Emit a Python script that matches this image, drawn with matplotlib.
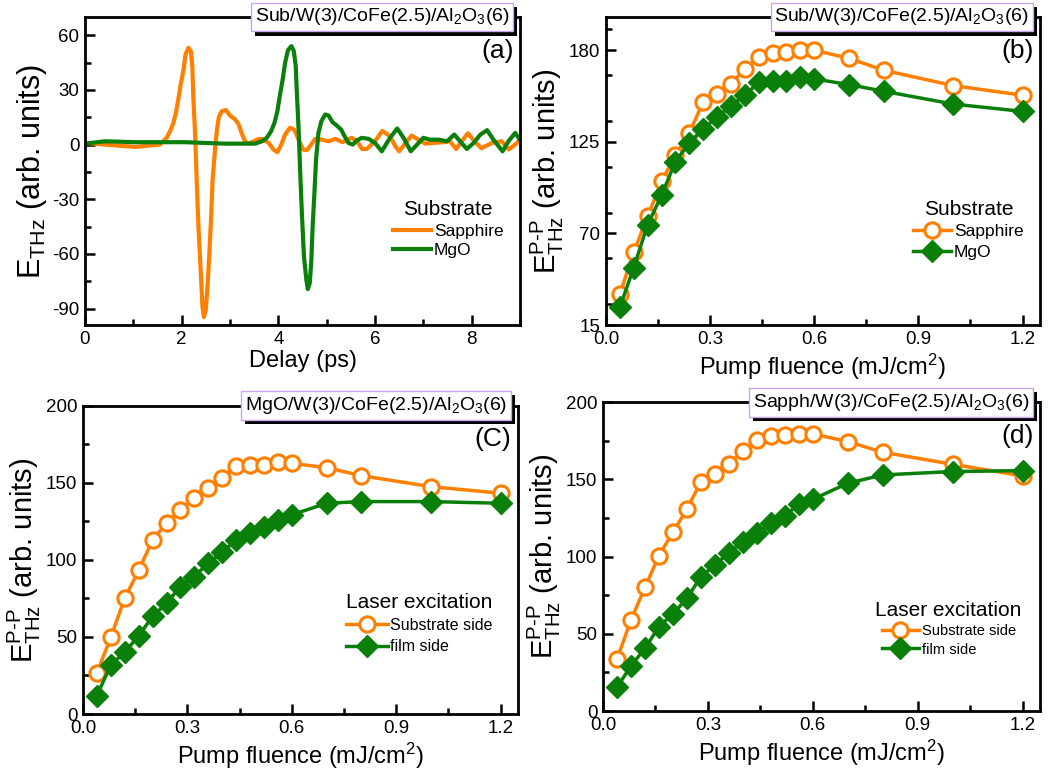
import numpy as np
import matplotlib
matplotlib.use('Agg')
import matplotlib.pyplot as plt
import matplotlib.patheffects as pe
from matplotlib.ticker import MultipleLocator

plt.rcParams['font.family'] = ['Liberation Sans', 'DejaVu Sans']
plt.rcParams['mathtext.fontset'] = 'custom'
plt.rcParams['mathtext.rm'] = 'Liberation Sans'
plt.rcParams['mathtext.it'] = 'Liberation Sans'
plt.rcParams['mathtext.default'] = 'regular'
plt.rcParams['axes.unicode_minus'] = False

ORANGE = '#ff8000'
GREEN = '#0a800a'

# (a) THz waveforms
t_sapph = [0.0, 0.41, 1.04, 1.35, 1.55, 1.69, 1.76, 1.83, 1.88, 1.93, 1.98, 2.04, 2.08, 2.14, 2.19,
           2.22, 2.24, 2.28, 2.31, 2.35, 2.40, 2.43, 2.46, 2.50, 2.53, 2.57, 2.61, 2.64, 2.69,
           2.73, 2.77, 2.83, 2.92, 3.00, 3.11, 3.18, 3.24, 3.31, 3.38, 3.49, 3.59, 3.66, 3.80,
           3.90, 3.98, 4.06, 4.14, 4.24, 4.33, 4.42, 4.51, 4.59, 4.68, 4.76, 4.90, 5.04, 5.18,
           5.33, 5.52, 5.63, 5.73, 5.83, 6.0, 6.15, 6.31, 6.42, 6.50, 6.66, 6.76, 6.9, 7.04,
           7.21, 7.42, 7.55, 7.68, 7.82, 7.92, 8.06, 8.20, 8.42, 8.62, 8.77, 8.94, 9.0]
E_sapph = [0.9, 0.0, -1.3, -0.5, 0.0, 3.7, 7.3, 11.9, 17.4, 24.7, 33.0, 41.2, 49.5, 53.1, 51.3,
           43.0, 26.6, 4.6, -19.2, -46.7, -72.3, -88.8, -94.7, -90.7, -79.7, -61.4, -39.4, -19.2, -2.7,
           8.2, 15.2, 18.3, 18.9, 15.9, 13.7, 11.0, 6.4, 1.8, 0.5, 1.8, 3.1, 3.1, 0.9,
           -2.7, -4.2, 0.0, 5.5, 9.2, 8.2, 2.7, -2.7, -3.1, 0.0, 3.1, 2.7, 1.8, 3.1,
           1.3, 3.7, 1.8, -2.4, -2.4, 1.8, 7.5, 4.6, -0.9, -3.7, 1.8, 4.9, 2.7, 0.5,
           0.9, 1.3, 1.8, -2.4, 2.7, 6.2, 1.8, -2.0, 0.9, 1.8, -2.7, 0.9, 3.0]

t_mgo = [0.0, 0.41, 1.04, 2.07, 2.9, 3.52, 3.66, 3.76, 3.85, 3.92, 3.98, 4.03, 4.09, 4.14, 4.20,
         4.27, 4.32, 4.36, 4.38, 4.42, 4.45, 4.49, 4.53, 4.58, 4.61, 4.65, 4.68, 4.71, 4.75,
         4.78, 4.83, 4.89, 4.97, 5.04, 5.12, 5.21, 5.30, 5.37, 5.45, 5.54, 5.63, 5.73,
         5.87, 6.0, 6.14, 6.31, 6.46, 6.59, 6.74, 6.87, 7.0, 7.14, 7.31, 7.49, 7.64, 7.76,
         7.90, 8.04, 8.18, 8.32, 8.45, 8.64, 8.76, 8.90, 9.0]
E_mgo = [0.5, 1.8, 1.3, 1.3, 0.5, 0.5, 1.8, 3.7, 7.3, 11.9, 18.3, 26.6, 35.7, 44.9, 51.8,
         54.0, 51.3, 43.0, 30.2, 8.2, -13.7, -39.4, -61.4, -74.2, -79.3, -76.0, -65.0, -44.9, -24.7,
         -8.2, 6.4, 12.8, 16.5, 15.9, 12.3, 10.4, 8.2, 4.6, 0.9, 0.0, 2.4, 3.7,
         3.1, 0.9, -3.7, 3.7, 8.8, 3.7, -3.7, 0.0, 3.7, 2.7, 2.7, 1.8, 5.5, 1.8,
         -2.4, 0.9, 5.5, 7.9, 2.7, -3.7, 1.8, 6.4, 2.5]

# pump fluence (mJ/cm^2)
fluence = [0.04, 0.08, 0.12, 0.16, 0.20, 0.24, 0.28, 0.32, 0.36, 0.40,
           0.44, 0.48, 0.52, 0.56, 0.60, 0.70, 0.80, 1.00, 1.20]

# (b) substrate comparison
b_sapph = [33.6, 58.7, 80.2, 101.2, 116.9, 130.3, 148.9, 153.7, 159.8, 168.8,
           176.0, 178.4, 179.0, 180.0, 180.0, 175.2, 168.0, 158.8, 153.0]
b_mgo = [25.6, 49.5, 75.2, 92.8, 113.2, 124.3, 132.9, 139.7, 146.7, 153.0,
         160.8, 161.8, 161.8, 164.0, 162.8, 159.4, 155.4, 147.7, 143.3]

# (c) MgO sample, excitation side
c_sub = [26.6, 49.9, 75.2, 93.1, 113.0, 123.8, 132.4, 140.0, 146.4, 153.3,
         160.9, 161.6, 161.6, 163.7, 162.6, 159.8, 154.6, 147.5, 143.2]
c_film = [11.9, 32.0, 40.0, 50.8, 63.3, 71.9, 82.7, 89.2, 97.8, 104.8,
          113.0, 117.3, 121.6, 125.9, 129.2, 136.7, 137.8, 137.8, 136.7]

# (d) sapphire sample, excitation side
d_sub = [33.5, 59.0, 80.1, 100.6, 115.8, 130.7, 148.6, 153.6, 159.8, 168.7,
         175.6, 177.8, 178.8, 179.5, 179.5, 174.5, 167.6, 159.8, 152.3]
d_film = [15.3, 29.2, 40.6, 54.6, 62.9, 73.0, 87.0, 94.6, 102.6, 109.7,
          115.1, 122.0, 126.3, 134.1, 137.1, 147.5, 152.9, 155.1, 155.7]

fig = plt.figure(figsize=(10.48, 7.72), dpi=100)
axa = fig.add_axes([0.0811, 0.579, 0.4151, 0.399])
axb = fig.add_axes([0.5782, 0.579, 0.4141, 0.399])
axc = fig.add_axes([0.0792, 0.0751, 0.415, 0.3994])
axd = fig.add_axes([0.5754, 0.079, 0.417, 0.400])


def style(ax):
    for s in ax.spines.values():
        s.set_linewidth(2)
    ax.tick_params(which='both', direction='in', width=1.8, labelsize=13.5)
    ax.tick_params(which='major', length=7, pad=4)
    ax.tick_params(which='minor', length=4)


def tag(ax, s):
    txt = ax.text(0.975, 1.0, s, transform=ax.transAxes, ha='right', va='center', fontsize=14,
                  zorder=10, clip_on=False,
                  bbox=dict(boxstyle='square,pad=0.2', fc='white', ec='#c8a4ee', lw=1))
    txt.get_bbox_patch().set_path_effects(
        [pe.SimplePatchShadow(offset=(3, -3), shadow_rgbFace='k', alpha=1), pe.Normal()])


def label(ax, s):
    ax.text(0.985, 0.93, s, transform=ax.transAxes, ha='right', va='top', fontsize=19)


ylab_pp = r'E$^{P\text{-}P}_{THz}$ (arb. units)'
xlab_f = r'Pump fluence (mJ/cm$^2$)'
leg_kw = dict(loc='upper left', frameon=False, title_fontsize=15, handletextpad=0.15,
              borderpad=0.2)

# (a)
axa.plot(t_sapph, E_sapph, color=ORANGE, lw=3, solid_joinstyle='round', label='Sapphire')
axa.plot(t_mgo, E_mgo, color=GREEN, lw=3, solid_joinstyle='round', label='MgO')
axa.set_xlim(0, 9)
axa.set_ylim(-99, 70)
axa.xaxis.set_major_locator(MultipleLocator(2))
axa.xaxis.set_minor_locator(MultipleLocator(1))
axa.yaxis.set_major_locator(MultipleLocator(30))
axa.yaxis.set_minor_locator(MultipleLocator(15))
axa.set_xlabel('Delay (ps)', fontsize=17, labelpad=2)
axa.set_ylabel(r'E$_{THz}$ (arb. units)', fontsize=22, labelpad=2)
style(axa)
tag(axa, r'Sub/W(3)/CoFe(2.5)/Al$_2$O$_3$(6)')
label(axa, '(a)')
axa.legend(title='Substrate', bbox_to_anchor=(0.68, 0.445), fontsize=12.5, handlelength=2.2,
           labelspacing=0.25, **leg_kw)

# (b)
axb.plot(fluence, b_sapph, color=ORANGE, lw=2.5, marker='o', ms=11, mfc='white', mew=2.2,
         label='Sapphire')
axb.plot(fluence, b_mgo, color=GREEN, lw=2.5, marker='D', ms=11, mfc=GREEN, mec=GREEN,
         label='MgO')
axb.set_xlim(0, 1.25)
axb.set_ylim(15, 200)
axb.xaxis.set_major_locator(MultipleLocator(0.3))
axb.xaxis.set_minor_locator(MultipleLocator(0.15))
axb.set_yticks([15, 70, 125, 180])
axb.yaxis.set_minor_locator(MultipleLocator(27.5))
axb.set_xlabel(xlab_f, fontsize=17, labelpad=3)
axb.set_ylabel(ylab_pp, fontsize=21, labelpad=2)
style(axb)
tag(axb, r'Sub/W(3)/CoFe(2.5)/Al$_2$O$_3$(6)')
label(axb, '(b)')
axb.legend(title='Substrate', bbox_to_anchor=(0.68, 0.445), fontsize=12.5, handlelength=2.2,
           labelspacing=0.3, **leg_kw)

# (c)
axc.plot(fluence, c_sub, color=ORANGE, lw=2.5, marker='o', ms=11, mfc='white', mew=2.2,
         label='Substrate side')
axc.plot(fluence, c_film, color=GREEN, lw=2.5, marker='D', ms=11, mfc=GREEN, mec=GREEN,
         label='film side')
axc.set_xlim(0, 1.25)
axc.set_ylim(0, 200)
axc.xaxis.set_major_locator(MultipleLocator(0.3))
axc.xaxis.set_minor_locator(MultipleLocator(0.15))
axc.yaxis.set_major_locator(MultipleLocator(50))
axc.yaxis.set_minor_locator(MultipleLocator(25))
axc.set_xlabel(xlab_f, fontsize=17, labelpad=3)
axc.set_ylabel(ylab_pp, fontsize=21, labelpad=2)
style(axc)
tag(axc, r'MgO/W(3)/CoFe(2.5)/Al$_2$O$_3$(6)')
label(axc, '(C)')
axc.legend(title='Laser excitation', bbox_to_anchor=(0.58, 0.43), fontsize=11.5,
           handlelength=2.6, labelspacing=0.4, **leg_kw)

# (d)
axd.plot(fluence, d_sub, color=ORANGE, lw=2.5, marker='o', ms=11, mfc='white', mew=2.2,
         label='Substrate side')
axd.plot(fluence, d_film, color=GREEN, lw=2.5, marker='D', ms=11, mfc=GREEN, mec=GREEN,
         label='film side')
axd.set_xlim(0, 1.25)
axd.set_ylim(0, 200)
axd.xaxis.set_major_locator(MultipleLocator(0.3))
axd.xaxis.set_minor_locator(MultipleLocator(0.15))
axd.yaxis.set_major_locator(MultipleLocator(50))
axd.yaxis.set_minor_locator(MultipleLocator(25))
axd.set_xlabel(xlab_f, fontsize=17, labelpad=3)
axd.set_ylabel(ylab_pp, fontsize=21, labelpad=2)
style(axd)
tag(axd, r'Sapph/W(3)/CoFe(2.5)/Al$_2$O$_3$(6)')
label(axd, '(d)')
axd.legend(title='Laser excitation', bbox_to_anchor=(0.6, 0.39), fontsize=10.5,
           handlelength=2.6, labelspacing=0.3, **leg_kw)

fig.savefig('out.png', dpi=100)
